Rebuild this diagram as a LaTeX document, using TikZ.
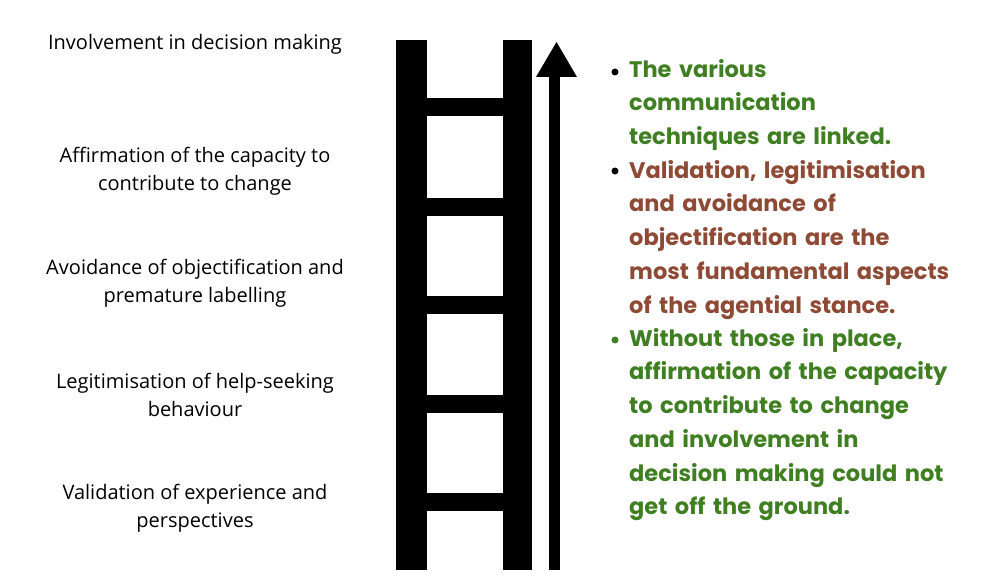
\documentclass[tikz,border=0pt]{standalone}
\usepackage{fontspec}
\setmainfont{Open Sans}
\newfontfamily\bul{Poppins}
\definecolor{gr}{HTML}{3F7F22}
\definecolor{br}{HTML}{8E4A35}
\begin{document}
\begin{tikzpicture}[x=1pt,y=-1pt,
  lab/.style={align=center,font=\fontsize{20}{28}\selectfont},
  bar/.style={fill=black,draw=none},
  bt/.style={anchor=north west,align=left,text width=370,font=\bul\bfseries\fontsize{22.5}{33.7}\selectfont,inner sep=0}]
\useasboundingbox (0,0) rectangle (1000,583);
\fill[bar] (396,40) rectangle (427,570);
\fill[bar] (503,40) rectangle (532,570);
\foreach \y in {98,198,296,395,493} \fill[bar] (427,\y) rectangle (503,\y+18);
\fill[bar] (549,570) rectangle (560,76);
\fill[bar] (536,77) -- (577,77) -- (556.5,42) -- cycle;
\node[lab] (l1) at (195,44) {Involvement in decision making};
\node[lab] (l2) at (195,171) {Affirmation of the capacity to\\contribute to change};
\node[lab] (l3) at (195,283) {Avoidance of objectification and\\premature labelling};
\node[lab] (l4) at (195,395) {Legitimisation of help-seeking\\behaviour};
\node[lab] (l5) at (195,508) {Validation of experience and\\perspectives};
\node[bt,text=gr] (b1) at (629,59) {The various\\communication\\techniques are linked.};
\node[bt,text=br] (b2) at (629,160) {Validation, legitimisation\\and avoidance of\\objectification are the\\most fundamental aspects\\of the agential stance.};
\node[bt,text=gr] (b3) at (629,328) {Without those in place,\\affirmation of the capacity\\to contribute to change\\and involvement in\\decision making could not\\get off the ground.};
\foreach \y/\c in {72/black,171/black,340/gr} \fill[\c] (615,\y) circle (3.5);
\end{tikzpicture}
\end{document}
